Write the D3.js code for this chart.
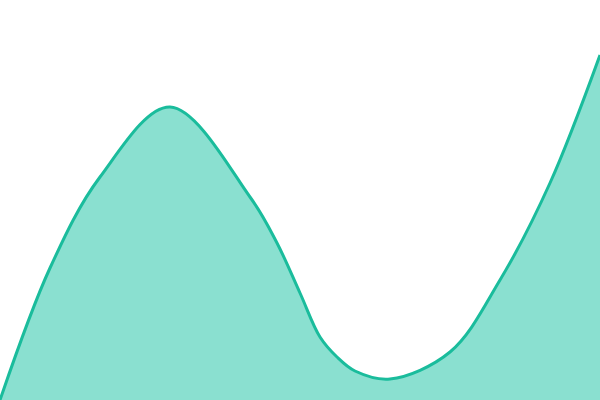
<!DOCTYPE html>
<html><head><meta charset="utf-8">
<script src="https://cdn.jsdelivr.net/npm/d3@7"></script>
<style>html,body{margin:0;padding:0;background:#fff;overflow:hidden}</style>
</head><body>
<svg id="chart" width="600" height="400"></svg>
<script>
const xPositions = [0, 50, 100, 170, 250, 277, 300, 320, 337, 355, 390, 450, 500, 550, 600];
const values = [0, 33, 55.75, 73.25, 50.75, 39.25, 26.75, 15.75, 10.75, 7.25, 5.25, 12, 30, 54.25, 86.25];

const W = 600, H = 400;
const data = xPositions.map((x, i) => ({x, v: values[i]}));
const x = d3.scaleLinear().domain([0, 600]).range([0, W]);
const y = d3.scaleLinear().domain([0, 100]).range([H, 0]);
const svg = d3.select("#chart");

const curve = d3.curveCatmullRom.alpha(0.5);
const area = d3.area().x(d => x(d.x)).y0(H).y1(d => y(d.v)).curve(curve);
const line = d3.line().x(d => x(d.x)).y(d => y(d.v)).curve(curve);

svg.append("path").datum(data).attr("d", area).attr("fill", "#8ae0d0");
svg.append("path").datum(data).attr("d", line).attr("fill", "none")
  .attr("stroke", "#1abc9c").attr("stroke-width", 3);
</script>
</body></html>
